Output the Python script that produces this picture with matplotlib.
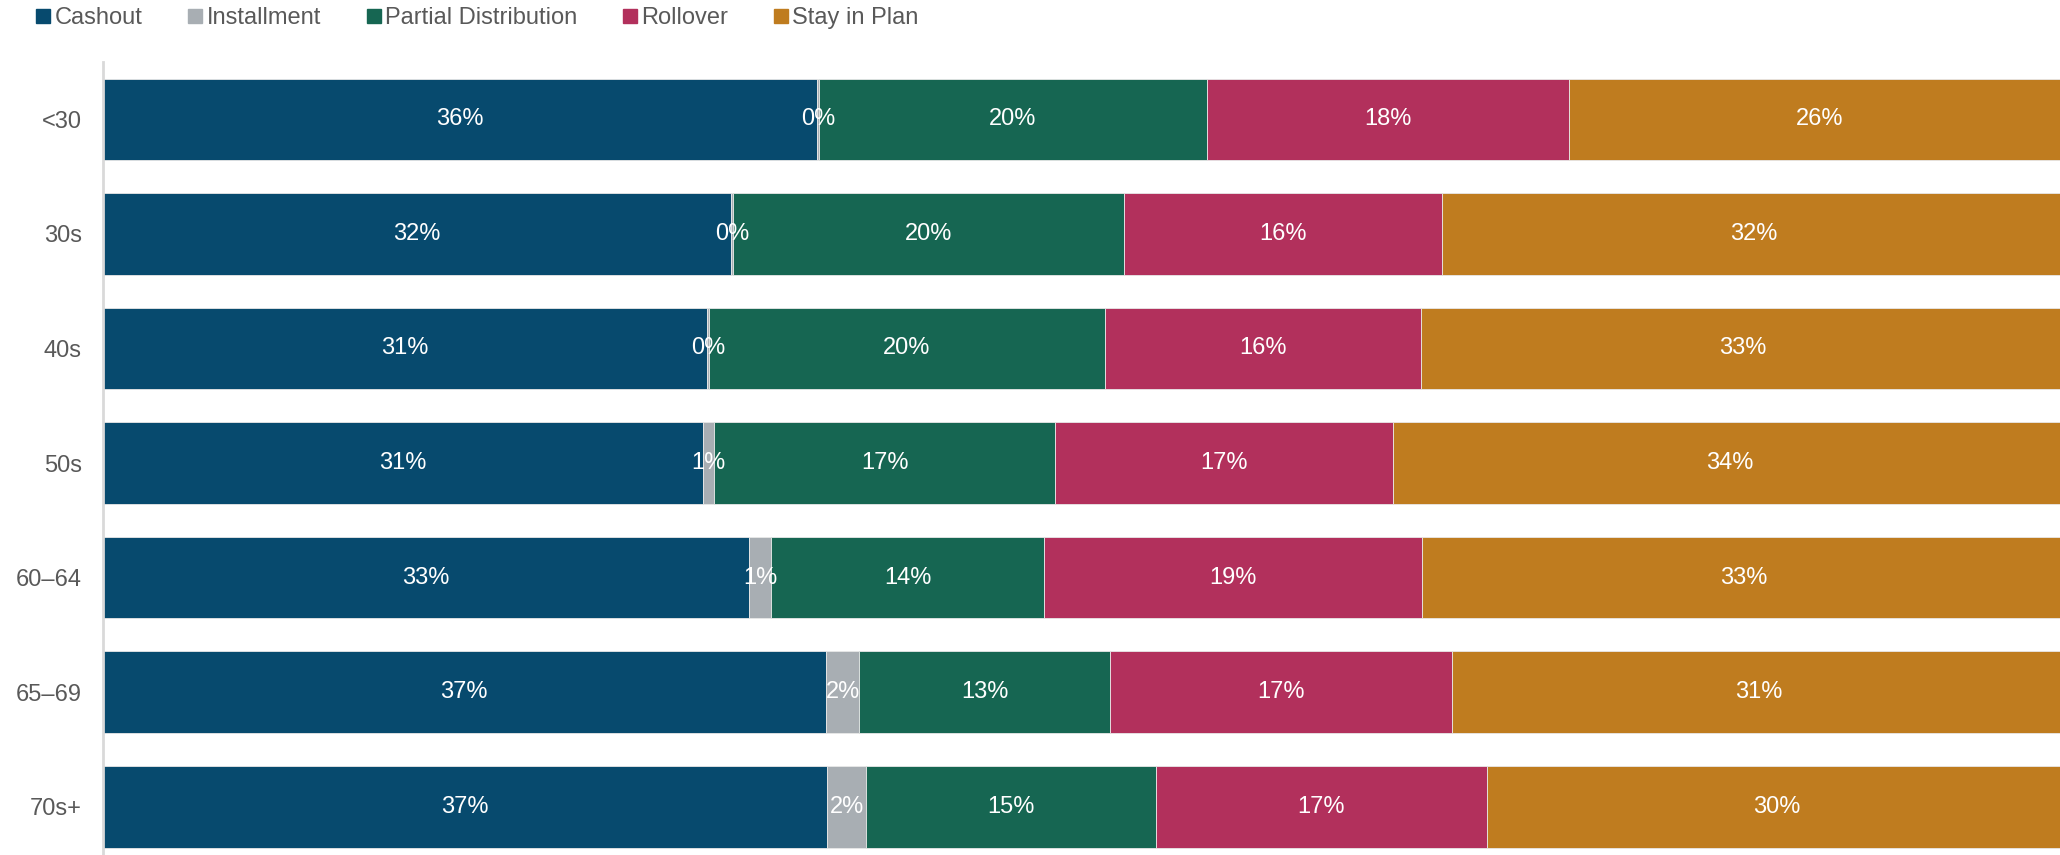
import matplotlib
matplotlib.use("Agg")
import matplotlib.pyplot as plt
from matplotlib.lines import Line2D
import numpy as np

plt.rcParams['font.family'] = ['Liberation Sans', 'DejaVu Sans']

categories = ["<30", "30s", "40s", "50s", "60\u201364", "65\u201369", "70s+"]
series_names = ["Cashout", "Installment", "Partial Distribution", "Rollover", "Stay in Plan"]
cashout = [36.41, 32.03, 30.81, 30.59, 32.93, 36.86, 36.92]
installment = [0.10, 0.10, 0.10, 0.56, 1.12, 1.70, 1.97]
partial = [19.75, 19.92, 20.15, 17.39, 13.93, 12.78, 14.78]
rollover = [18.43, 16.19, 16.09, 17.22, 19.26, 17.43, 16.84]
stay = [25.60, 31.76, 32.85, 34.24, 32.76, 31.23, 29.60]
colors = ["#074A6E", "#A8AEB3", "#166652", "#B2305C", "#BF7C1F"]

series = [cashout, installment, partial, rollover, stay]

fig = plt.figure(figsize=(20.6, 8.55), dpi=100)
ax = fig.add_axes([102.5 / 2060, 0.0, 1963 / 2060, (855 - 62) / 855])

y = np.arange(len(categories))
left = np.zeros(len(categories))
for name, vals, col in zip(series_names, series, colors):
    vals = np.array(vals)
    ax.barh(y, vals, left=left, height=0.712, color=col, edgecolor="#e8e8e8",
            linewidth=0.6, label=name)
    for yi, l, v in zip(y, left, vals):
        ax.text(l + v / 2, yi, f"{v:.0f}%", ha="center", va="center",
                color="white", fontsize=17)
    left = left + vals

ax.set_xlim(0, 100)
ax.set_ylim(6.42, -0.5)
ax.set_yticks(y)
ax.set_yticklabels(categories, fontsize=17, color="#595959")
ax.tick_params(axis="y", length=0, pad=15)
ax.set_xticks([])
for s in ["top", "right", "bottom"]:
    ax.spines[s].set_visible(False)
ax.spines["left"].set_color("#D9D9D9")
ax.spines["left"].set_linewidth(2)

handles = [Line2D([0], [0], marker="s", linestyle="none", markersize=9.4,
                  markerfacecolor=c, markeredgecolor=c) for c in colors]
fig.legend(handles, series_names, loc="upper left", bbox_to_anchor=(37 / 2060, 1 - 7 / 855),
           ncol=5, frameon=False, fontsize=17, labelcolor="#595959",
           handletextpad=0.21, columnspacing=1.95, handlelength=0.55,
           borderpad=0, borderaxespad=0)

fig.savefig("out.png", dpi=100)
